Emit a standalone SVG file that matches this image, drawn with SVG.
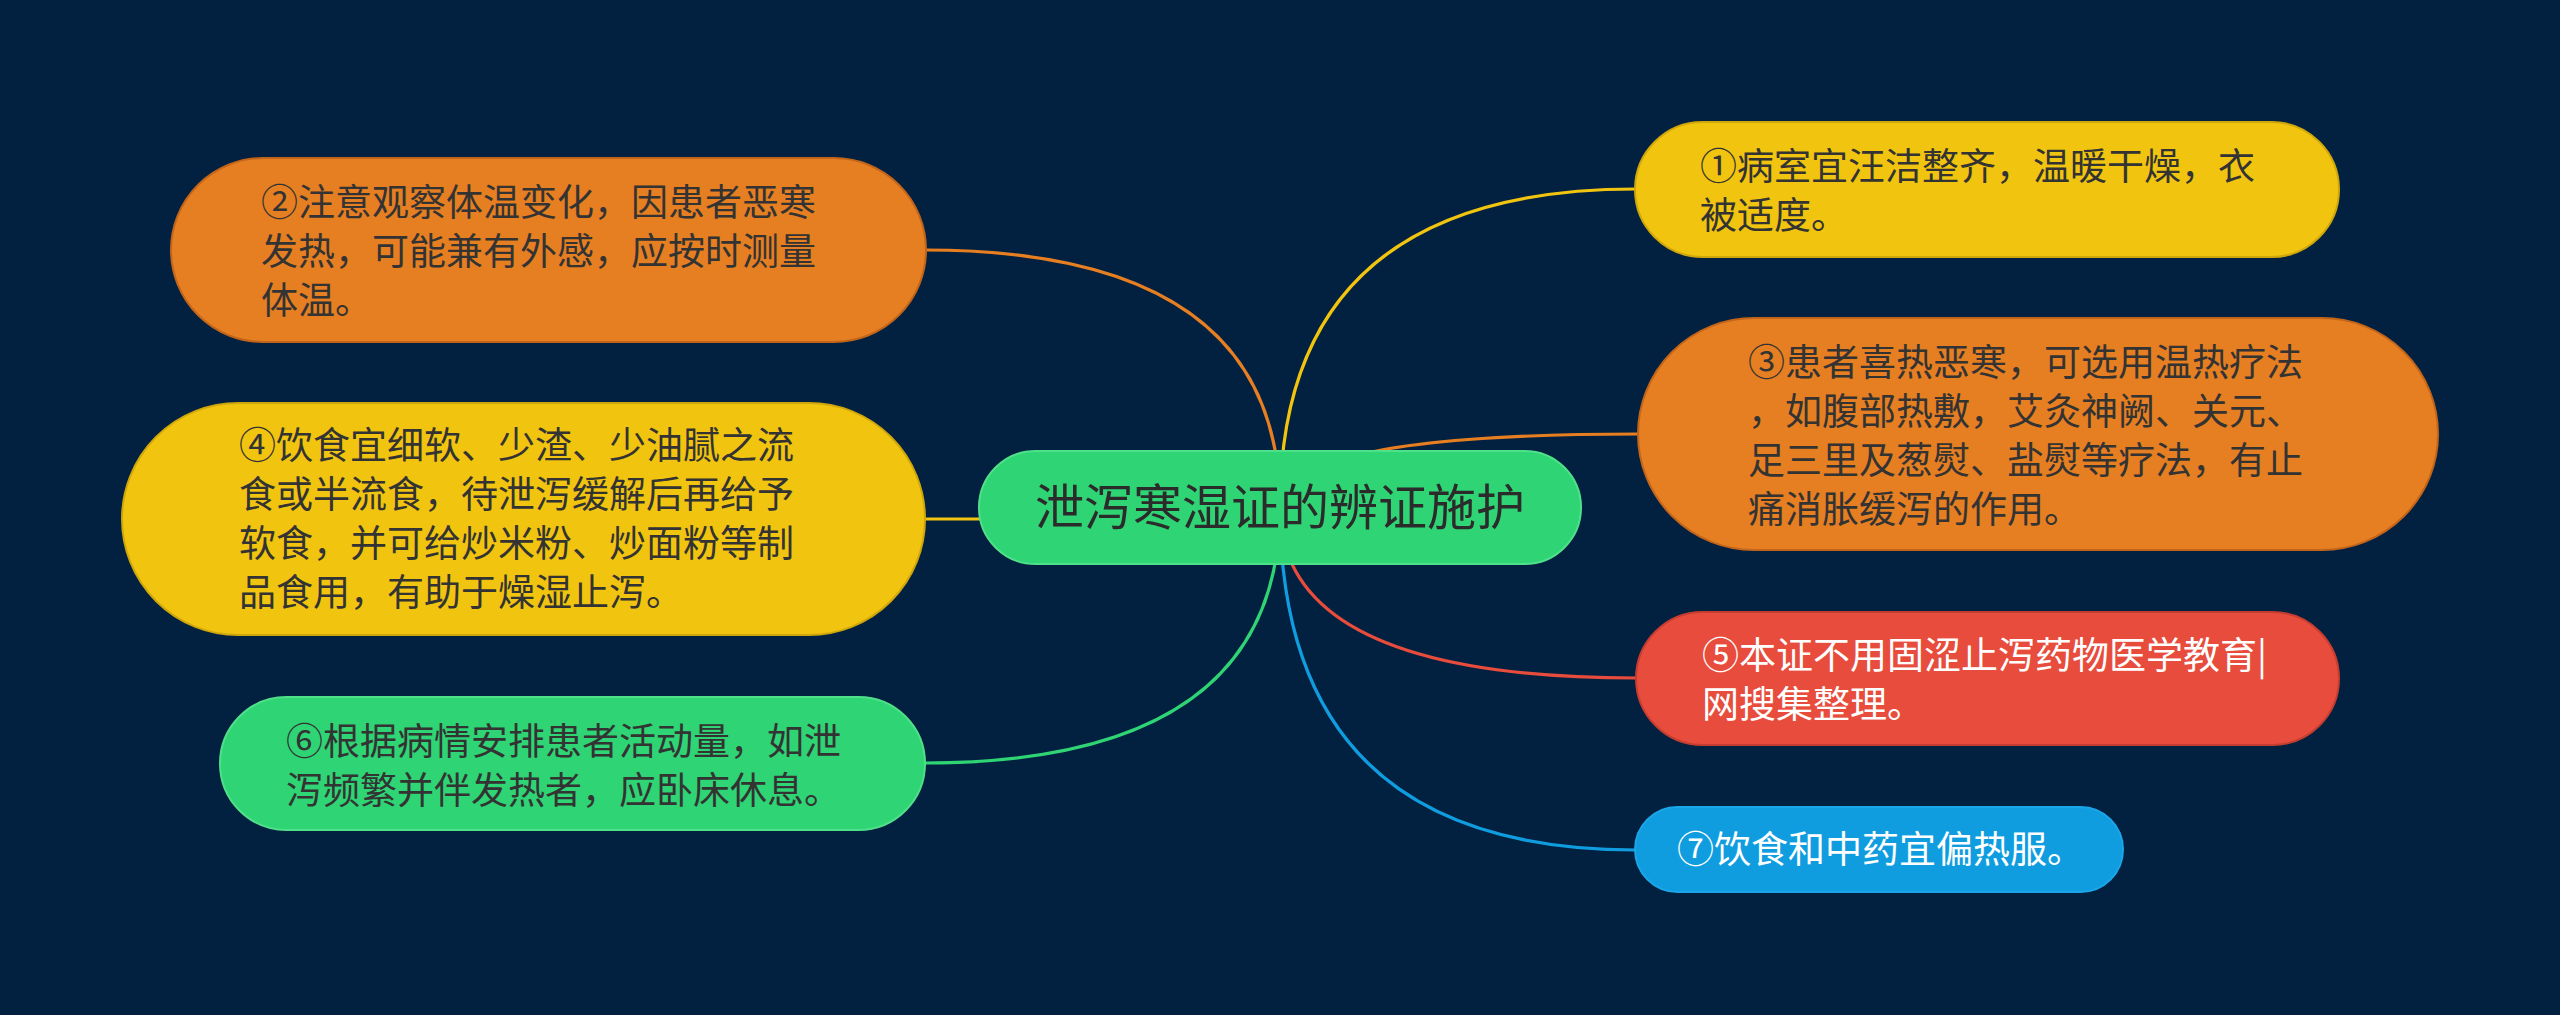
<svg xmlns="http://www.w3.org/2000/svg" width="2560" height="1015" viewBox="0 0 2560 1015">
<style>
.t{font-family:"Noto Sans CJK SC","Noto Sans",sans-serif;font-size:37px;fill:#333333}
.w{fill:#ffffff}
.c{font-size:49px;fill:#2b2b2b}
.ln{fill:none;stroke-width:3.2;stroke-linecap:round}
.or{fill:#e67e22;stroke:#c2651a;stroke-width:2}
.ye{fill:#f1c40f;stroke:#cfa70b;stroke-width:2}
.gr{fill:#2fd474;stroke:#4fe08a;stroke-width:2}
.rd{fill:#e74c3c;stroke:#c53d30;stroke-width:2}
.bl{fill:#109de0;stroke:#1aa6e8;stroke-width:2}
</style>
<rect x="0" y="0" width="2560" height="1015" fill="#02203f"/>
<g id="connectors">
<path class="ln" stroke="#f1c40f" d="M1280,507 Q1280,189 1636,189"/>
<path class="ln" stroke="#e67e22" d="M1280,507 Q1280,434 1638,434"/>
<path class="ln" stroke="#e74c3c" d="M1280,507 Q1280,678 1636,678"/>
<path class="ln" stroke="#109de0" d="M1280,507 Q1280,850 1636,850"/>
<path class="ln" stroke="#e67e22" d="M1280,507 Q1280,250 925,250"/>
<path class="ln" stroke="#f1c40f" d="M1280,507 Q1280,519 924,519"/>
<path class="ln" stroke="#2fd474" d="M1280,507 Q1280,763 924,763"/>
</g>
<g id="center">
<rect class="gr" x="979" y="451" width="602" height="113" rx="56.5"/>
<text class="t c" x="1280" y="525" text-anchor="middle">泄泻寒湿证的辨证施护</text>
</g>
<g id="node1">
<rect class="ye" x="1635" y="122" width="704" height="135" rx="67.5"/>
<text class="t" x="1700" y="180">①病室宜汪洁整齐，温暖干燥，衣</text>
<text class="t" x="1700" y="229">被适度。</text>
</g>
<g id="node3">
<rect class="or" x="1638" y="318" width="800" height="232" rx="116"/>
<text class="t" x="1748" y="376">③患者喜热恶寒，可选用温热疗法</text>
<text class="t" x="1748" y="425">，如腹部热敷，艾灸神阙、关元、</text>
<text class="t" x="1748" y="474">足三里及葱熨、盐熨等疗法，有止</text>
<text class="t" x="1748" y="523">痛消胀缓泻的作用。</text>
</g>
<g id="node5">
<rect class="rd" x="1636" y="612" width="703" height="133" rx="66.5"/>
<text class="t w" x="1702" y="669">⑤本证不用固涩止泻药物医学教育|</text>
<text class="t w" x="1702" y="718">网搜集整理。</text>
</g>
<g id="node7">
<rect class="bl" x="1635" y="807" width="488" height="85" rx="42.5"/>
<text class="t w" x="1677" y="863">⑦饮食和中药宜偏热服。</text>
</g>
<g id="node2">
<rect class="or" x="171" y="158" width="755" height="184" rx="92"/>
<text class="t" x="261" y="216">②注意观察体温变化，因患者恶寒</text>
<text class="t" x="261" y="265">发热，可能兼有外感，应按时测量</text>
<text class="t" x="261" y="314">体温。</text>
</g>
<g id="node4">
<rect class="ye" x="122" y="403" width="803" height="232" rx="116"/>
<text class="t" x="239" y="459">④饮食宜细软、少渣、少油腻之流</text>
<text class="t" x="239" y="508">食或半流食，待泄泻缓解后再给予</text>
<text class="t" x="239" y="557">软食，并可给炒米粉、炒面粉等制</text>
<text class="t" x="239" y="606">品食用，有助于燥湿止泻。</text>
</g>
<g id="node6">
<rect class="gr" x="220" y="697" width="705" height="133" rx="66.5"/>
<text class="t" x="286" y="755">⑥根据病情安排患者活动量，如泄</text>
<text class="t" x="286" y="804">泻频繁并伴发热者，应卧床休息。</text>
</g>
</svg>
